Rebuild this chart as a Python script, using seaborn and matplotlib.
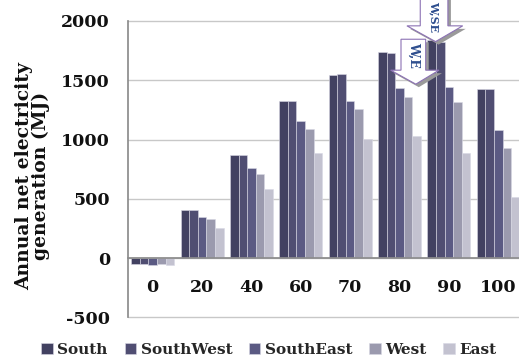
import numpy as np
import pandas as pd
import matplotlib
matplotlib.use("Agg")
import matplotlib.pyplot as plt
from matplotlib.patches import Polygon
from matplotlib.transforms import ScaledTranslation
import seaborn as sns

# Tilt angle categories (degrees)
angles = ["0", "20", "40", "60", "70", "80", "90", "100"]
orientations = ["South", "SouthWest", "SouthEast", "West", "East"]

# Annual net electricity generation (MJ) per orientation
south = [-50, 407, 871, 1329, 1545, 1737, 1840, 1430]
southwest = [-50, 407, 871, 1329, 1551, 1731, 1820, 1430]
southeast = [-60, 346, 761, 1158, 1329, 1433, 1442, 1079]
west = [-50, 331, 711, 1088, 1259, 1357, 1320, 927]
east = [-60, 255, 582, 885, 1006, 1031, 885, 517]

colors = ["#3d3c66", "#4a4878", "#55538a", "#9896b2", "#c1c0d2"]

series = [south, southwest, southeast, west, east]
df = pd.DataFrame({
    "angle": np.repeat([angles], len(orientations), axis=0).ravel(),
    "orientation": np.repeat(orientations, len(angles)),
    "value": np.concatenate(series),
})

sns.set_theme(style="white")
plt.rcParams["font.family"] = ["DejaVu Serif"]
plt.rcParams["font.weight"] = "bold"
plt.rcParams["axes.unicode_minus"] = False

fig = plt.figure(figsize=(5.19, 3.6), dpi=100)
ax = fig.add_axes([0.2466, 0.1186, 0.761, 0.8231])

sns.barplot(data=df, x="angle", y="value", hue="orientation",
            order=angles, hue_order=orientations, palette=colors,
            width=0.87, gap=0, errorbar=None, ax=ax, legend=True,
            edgecolor="#d8d8e4", linewidth=0.4, zorder=3)

ax.set_xlim(-0.5, len(angles) - 0.5)
ax.set_ylim(-500, 2000)
ax.set_yticks(np.arange(-500, 2001, 500))
ax.yaxis.grid(True, color="#c8c8c8", linewidth=1.0, zorder=0)
ax.xaxis.grid(False)
for gl in ax.yaxis.get_gridlines():
    gl.set_clip_on(False)

for side in ["top", "right"]:
    ax.spines[side].set_visible(False)
ax.spines["left"].set_color("#8c8c8c")
ax.spines["bottom"].set_position(("data", 0))
ax.spines["bottom"].set_color("#8c8c8c")
ax.spines["bottom"].set_zorder(4)

ax.tick_params(axis="y", length=0, pad=13, labelsize=12.5, labelcolor="#111111")
ax.tick_params(axis="x", length=0, pad=15, labelsize=12.5, labelcolor="#111111")
for lab in ax.get_xticklabels() + ax.get_yticklabels():
    lab.set_fontweight("bold")
ax.set_xlabel("")
ax.set_ylabel("")

fig.text(32.5 / 519, 1 - 176 / 360, "Annual net electricity\ngeneration (MJ)",
         rotation=90, ha="center", va="center", multialignment="center",
         fontsize=13.5, fontweight="bold", color="#111111", linespacing=0.92)

handles, labels = ax.get_legend_handles_labels()
ax.legend_.remove()
fig.legend(handles, labels, loc="center", bbox_to_anchor=(269 / 519, 1 - 350 / 360),
           ncol=5, frameon=False, handlelength=0.75, handleheight=0.75,
           handletextpad=0.3, columnspacing=1.1, borderaxespad=0,
           prop={"size": 11, "weight": "bold"})


def block_arrow(ax, x_left, x_right, head_left, head_right, tip_x,
                top, head_start, tip, text, text_y, text_size):
    shape = [(x_left, top), (x_right, top), (x_right, head_start),
             (head_right, head_start), (tip_x, tip), (head_left, head_start),
             (x_left, head_start)]
    # gray drop shadow offset down-right
    shadow = Polygon(shape, closed=True, facecolor="#9a9a9a", edgecolor="none",
                     clip_on=False, zorder=5,
                     transform=ax.transData + ScaledTranslation(
                         3 / 100, -3 / 100, fig.dpi_scale_trans))
    ax.add_patch(shadow)
    body = Polygon(shape, closed=True, facecolor="white", edgecolor="#8c72b4",
                   linewidth=0.8, clip_on=False, zorder=6)
    ax.add_patch(body)
    ax.text((x_left + x_right) / 2, text_y, text, rotation=-90, ha="center",
            va="center", fontsize=text_size, fontweight="bold", color="#2e4e8e",
            zorder=7, clip_on=False)


block_arrow(ax, 5.42, 5.98, 5.15, 6.28, 5.73, 2350, 1959, 1826, "W,SE", 2035, 8)
block_arrow(ax, 5.03, 5.53, 4.82, 5.80, 5.33, 1846, 1585, 1467, "W,E", 1710, 9)

fig.savefig("out.png", dpi=100)
